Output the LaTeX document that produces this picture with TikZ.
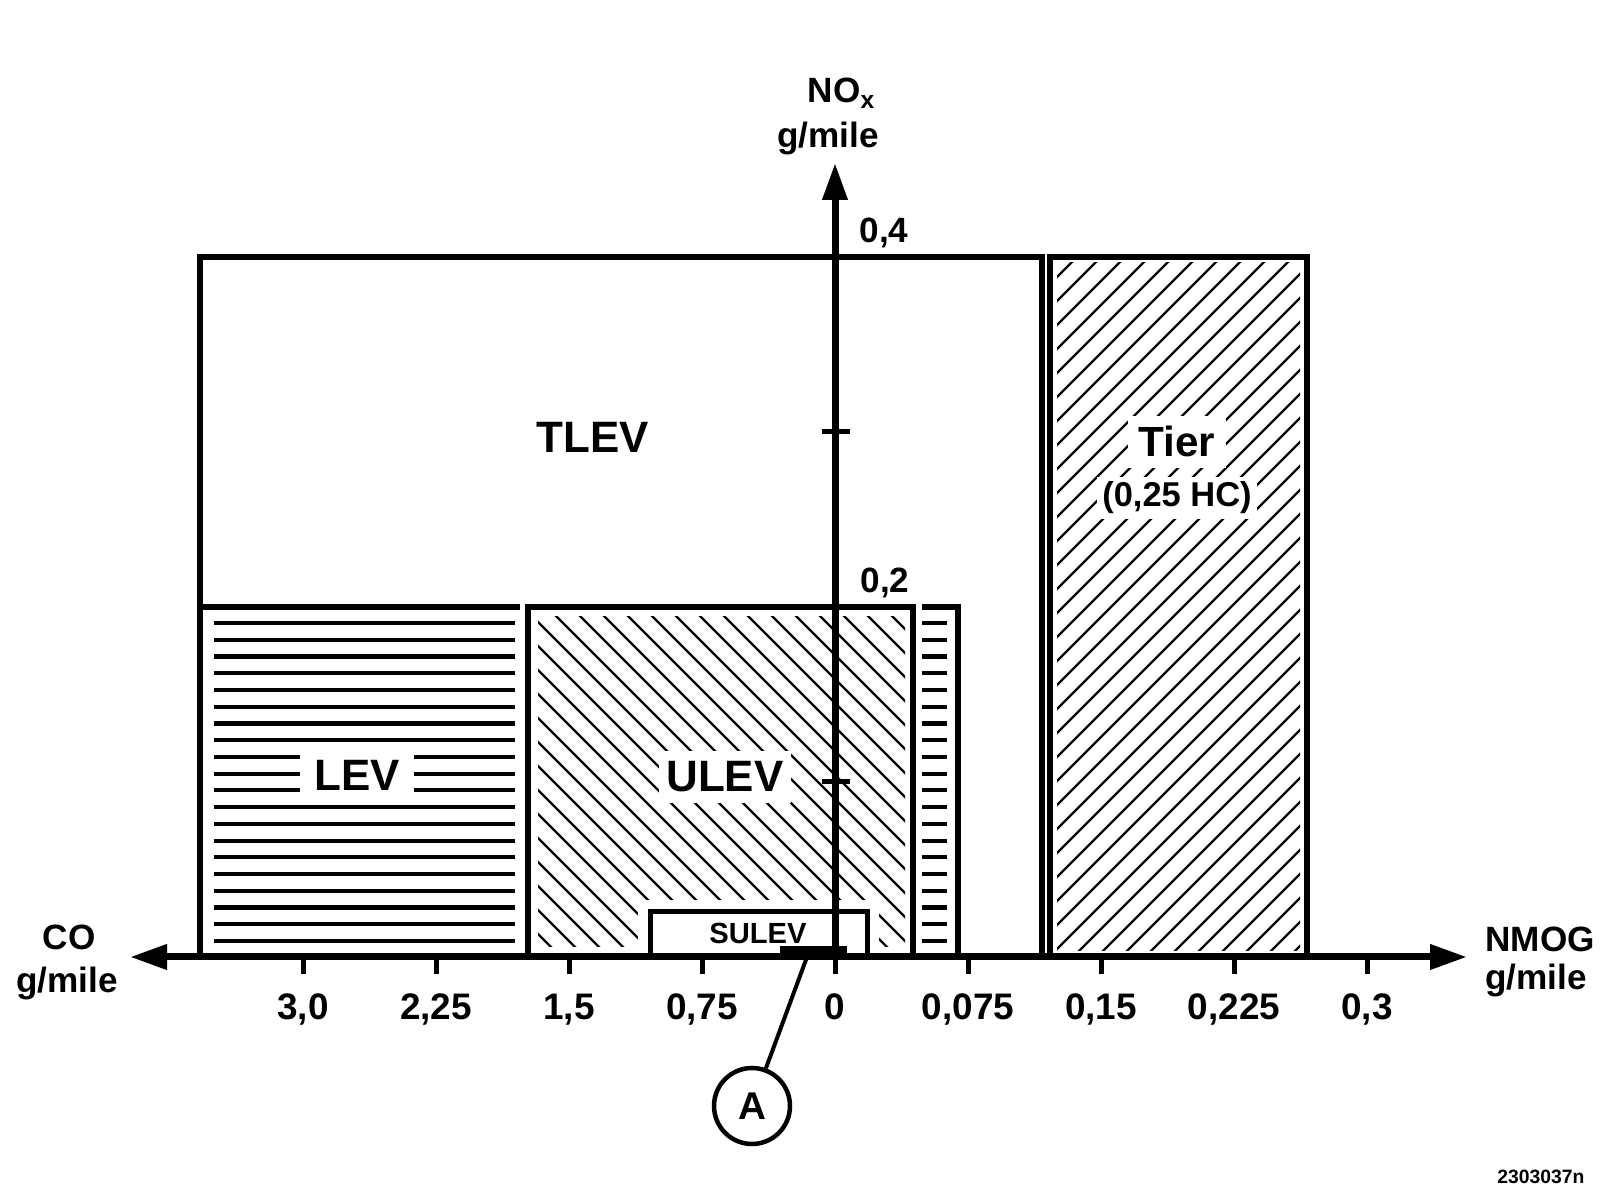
\documentclass[tikz,border=0pt]{standalone}
\usepackage{fontspec}
\setmainfont{Liberation Sans}
\usetikzlibrary{arrows.meta}
\tikzset{
  frame/.style={line width=0.6mm},
  axisline/.style={line width=0.7mm},
  tick/.style={line width=0.5mm},
  hatch/.style={line width=0.24mm},
  bars/.style={line width=0.42mm},
  lbl/.style={font=\bfseries\fontsize{10}{12}\selectfont},
  ticklbl/.style={font=\bfseries\fontsize{10.5}{12}\selectfont,anchor=base},
  zone/.style={font=\bfseries\fontsize{12.5}{15}\selectfont,fill=white},
  head/.style={-{Triangle[length=3.7mm,width=2.4mm]}},
}
\begin{document}
\begin{tikzpicture}[x=0.1mm,y=-0.1mm]
\useasboundingbox (0,0) rectangle (1600,1198);
% ULEV and Tier hatching
\begin{scope}
\clip (538,617) rectangle (905,947);
\foreach \c in {-420,-396,...,300}
  \draw[hatch] (\c+600,600) -- (\c+960,960);
\end{scope}
\begin{scope}
\clip (1057,263) rectangle (1300,951);
\foreach \c in {1310,1334,...,2270}
  \draw[hatch] (\c-250,250) -- (\c-960,960);
\end{scope}
% LEV bars
\foreach \k in {0,...,19} {
  \draw[bars] (214,623+16.74*\k) -- (515,623+16.74*\k);
  \draw[bars] (922,623+16.74*\k) -- (947,623+16.74*\k);
}
\fill[white] (638,900) rectangle (879,957);
% zone labels
\node[zone,fill=none] (tlev) at (593,437) {TLEV};
\node[zone,inner xsep=4pt,inner ysep=3pt] (lev) at (357,775) {LEV};
\node[zone,inner xsep=2pt,inner ysep=3pt] (ulev) at (725,777) {ULEV};
\node[zone,font=\bfseries\fontsize{12}{14}\selectfont,anchor=base,inner sep=3pt] (tier) at (1177,457) {Tier};
\node[zone,font=\bfseries\fontsize{9.8}{12}\selectfont,anchor=base,inner sep=1.5pt] (tierhc) at (1177,507) {(0,25 HC)};
\node[font=\bfseries\fontsize{8.3}{10}\selectfont] (sulev) at (758,933) {SULEV};
% boxes
\draw[frame] (200,957) -- (200,257) -- (1042,257) -- (1042,957);
\draw[frame] (200,607) -- (520,607);
\draw[frame] (528,957) -- (528,607) -- (913,607) -- (913,957);
\draw[frame] (922,607) -- (958,607) -- (958,957);
\draw[frame] (1050,957) -- (1050,257) -- (1307,257) -- (1307,957);
\draw[frame,line width=0.5mm] (650,957) -- (650,912) -- (867,912) -- (867,957);
% axes
\coordinate (origin) at (835,957);
\coordinate (xleft) at (130,957);
\coordinate (xright) at (1467,957);
\coordinate (ytop) at (835,163);
\draw[axisline,head] (origin) -- (xleft);
\draw[axisline,head] (origin) -- (xright);
\draw[axisline,head] (origin) -- (ytop);
\foreach \x in {303,436,...,1367}
  \draw[tick] (\x,957) -- (\x,974);
\foreach \y in {432,782}
  \draw[tick] (822,\y) -- (850,\y);
\foreach \x/\t in {303/{3,0},436/{2,25},569/{1,5},702/{0,75},835/0,968/{0,075},1101/{0,15},1234/{0,225},1367/{0,3}}
  \node[ticklbl] (tk\x) at (\x,1020) {\t};
\node[ticklbl,font=\bfseries\fontsize{10}{12}\selectfont] (yfour) at (884,243) {0,4};
\node[ticklbl,font=\bfseries\fontsize{10}{12}\selectfont] (ytwo) at (885,593) {0,2};
% axis titles
\node[lbl,anchor=base] (nox) at (842,103) {NO\textsubscript{x}};
\node[lbl,anchor=base] (noxunit) at (828,148) {g/mile};
\node[lbl,anchor=base] (co) at (69,950) {CO};
\node[lbl,anchor=base] (counit) at (67,993) {g/mile};
\node[lbl,anchor=base west] (nmog) at (1473,952) {NMOG};
\node[lbl,anchor=base west] (nmogunit) at (1473,990) {g/mile};
% marker A
\fill (780,946) rectangle (847,957);
\coordinate (abar) at (807,957);
\node[circle,draw,line width=0.45mm,minimum size=7.6mm,inner sep=0pt,font=\bfseries\fontsize{11}{13}\selectfont] (markA) at (752,1106) {A};
\draw[line width=0.4mm] (abar) -- (markA);
\node[font=\bfseries\fontsize{5.5}{6}\selectfont] (code) at (1541,1177) {2303037n};
\end{tikzpicture}
\end{document}
